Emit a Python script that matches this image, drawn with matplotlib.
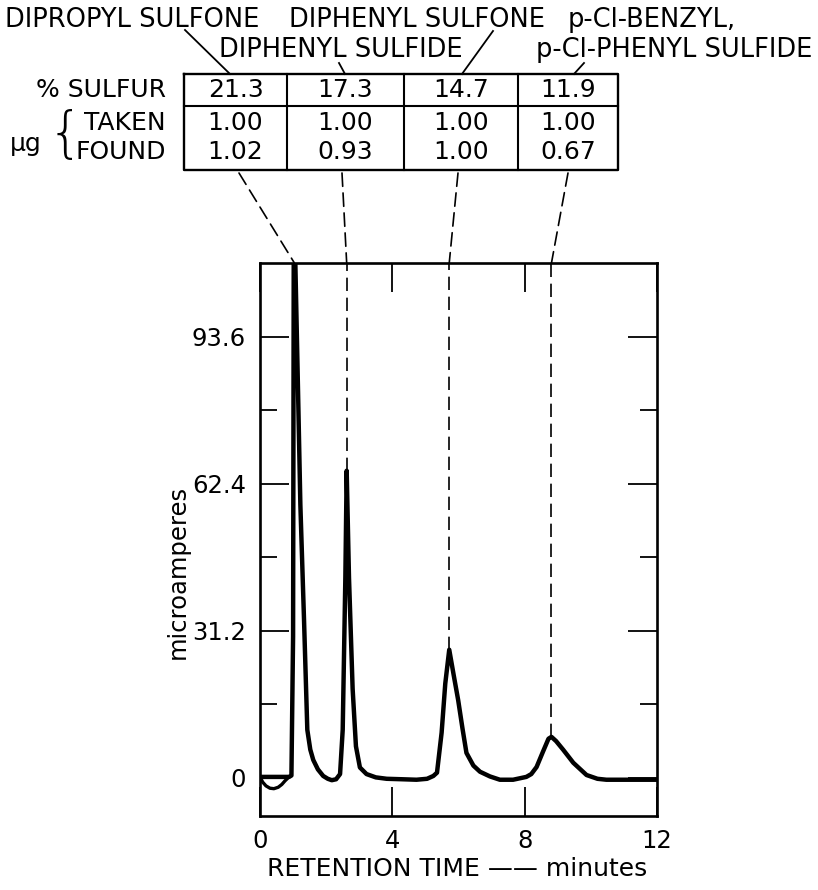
import numpy as np
import matplotlib
matplotlib.use('Agg')
import matplotlib.pyplot as plt
from matplotlib.patches import ConnectionPatch

# chromatogram trace (minutes, microamperes)
time = [0.0, 0.88, 0.95, 1.00, 1.02, 1.06, 1.15, 1.22, 1.33, 1.43, 1.52, 1.61,
        1.75, 1.91, 2.05, 2.17, 2.30, 2.42, 2.50, 2.58, 2.62, 2.69, 2.80, 2.90,
        3.02, 3.22, 3.50, 3.83, 4.30, 4.73, 5.05, 5.24, 5.35, 5.49, 5.60, 5.72,
        5.85, 5.99, 6.12, 6.24, 6.45, 6.65, 6.95, 7.25, 7.65, 8.05, 8.20, 8.36,
        8.55, 8.72, 8.81, 8.95, 9.16, 9.47, 9.87, 10.20, 10.47, 11.0, 12.0]
current = [0.2, 0.2, 0.5, 30.0, 112.0, 112.0, 82.0, 58.0, 33.7, 10.2, 6.0, 3.8,
           1.8, 0.4, -0.2, -0.5, -0.3, 0.8, 10.2, 42.5, 65.2, 42.5, 18.9, 6.7,
           2.2, 0.8, 0.1, -0.2, -0.3, -0.4, -0.2, 0.4, 1.1, 9.6, 20.0, 27.2,
           22.0, 16.5, 10.5, 5.3, 2.6, 1.3, 0.3, -0.4, -0.4, 0.2, 0.8, 2.3,
           5.5, 8.3, 8.7, 7.8, 6.0, 3.2, 0.6, -0.2, -0.4, -0.4, -0.4]
# small negative dip at the start
dip_time = [0.0, 0.08, 0.18, 0.30, 0.42, 0.55, 0.66, 0.76, 0.88]
dip_current = [0.2, -0.9, -1.7, -2.2, -2.3, -2.0, -1.4, -0.6, 0.2]

peak_times = [1.04, 2.62, 5.72, 8.81]
sulfur_pct = ['21.3', '17.3', '14.7', '11.9']
taken = ['1.00', '1.00', '1.00', '1.00']
found = ['1.02', '0.93', '1.00', '0.67']

yticks = [0, 31.2, 62.4, 93.6]
yminor = [15.6, 46.8, 78.0]
xticks = [0, 4, 8, 12]

plt.rcParams['font.family'] = ['DejaVu Sans']

fig = plt.figure(figsize=(8.18, 8.9), dpi=100)

# overlay in pixel coordinates for the header / table
ov = fig.add_axes([0, 0, 1, 1], zorder=0)
ov.set_xlim(0, 818)
ov.set_ylim(890, 0)
ov.axis('off')

ax = fig.add_axes([260 / 818, 1 - 816 / 890, 397 / 818, 553 / 890], zorder=1)
ax.set_facecolor('none')
ax.set_xlim(0, 12)
ax.set_ylim(-8.1, 109.3)

ax.plot(time, current, color='black', lw=3.2, solid_joinstyle='round',
        solid_capstyle='round')
ax.plot(dip_time, dip_current, color='black', lw=2.4)

dash = (0, (8, 4))
for t in peak_times[1:]:
    h = np.interp(t, time, current)
    ax.vlines(t, h, 109.3, colors='black', lw=1.2, linestyles=dash)

ax.set_xticks(xticks)
ax.set_yticks(yticks)
ax.set_yticks(yminor, minor=True)
ax.set_yticklabels(['0', '31.2', '62.4', '93.6'])
ax.tick_params(axis='y', which='major', direction='in', length=21, width=1.3,
               right=True, labelsize=17.5, pad=10)
ax.tick_params(axis='y', which='minor', direction='in', length=12, width=1.3,
               right=True)
ax.tick_params(axis='x', which='major', direction='in', length=21, width=1.3,
               top=True, labelsize=17.5, pad=9)
for s in ax.spines.values():
    s.set_linewidth(1.9)

fig.text(457 / 818, 1 - 869 / 890, 'RETENTION TIME \u2014\u2014 minutes',
         ha='center', va='center', fontsize=18)
fig.text(178 / 818, 1 - 572 / 890, 'microamperes', rotation=90,
         ha='center', va='center', fontsize=17.5)

# header labels
hdr = dict(fontsize=18.5, va='center')
ov.text(5, 20, 'DIPROPYL SULFONE', ha='left', **hdr)
ov.text(289, 20, 'DIPHENYL SULFONE', ha='left', **hdr)
ov.text(568, 20, 'p-Cl-BENZYL,', ha='left', **hdr)
ov.text(219, 50, 'DIPHENYL SULFIDE', ha='left', **hdr)
ov.text(812, 50, 'p-Cl-PHENYL SULFIDE', ha='right', **hdr)

for (x0, y0), (x1, y1) in [((185, 30), (230, 74)), ((339, 63), (345, 74)),
                           ((493, 31), (462, 74)), ((584, 63), (574, 74))]:
    ov.plot([x0, x1], [y0, y1], color='black', lw=1.3)

# table
cols = [184, 287, 404, 518, 618]
top, mid, bot = 74, 106, 170
ov.plot([cols[0], cols[-1], cols[-1], cols[0], cols[0]],
        [top, top, bot, bot, top], color='black', lw=1.7)
ov.plot([cols[0], cols[-1]], [mid, mid], color='black', lw=1.5)
for c in cols[1:-1]:
    ov.plot([c, c], [top, bot], color='black', lw=1.5)

cell = dict(fontsize=18, ha='center', va='center')
for i in range(4):
    cx = (cols[i] + cols[i + 1]) / 2
    ov.text(cx, 90, sulfur_pct[i], **cell)
    ov.text(cx, 123, taken[i], **cell)
    ov.text(cx, 152, found[i], **cell)

ov.text(166, 90, '% SULFUR', ha='right', va='center', fontsize=18)
ov.text(166, 123, 'TAKEN', ha='right', va='center', fontsize=18)
ov.text(166, 152, 'FOUND', ha='right', va='center', fontsize=18)
ov.text(65, 136, '{', ha='center', va='center', fontsize=40,
        fontweight='light')
ov.text(26, 144, '\u03bcg', ha='center', va='center', fontsize=18)

# dashed leaders from the table to the peaks
starts = [239, 342, 458, 568]
for sx, t in zip(starts, peak_times):
    con = ConnectionPatch(xyA=(sx, 173), coordsA=ov.transData,
                          xyB=(t, 109.3), coordsB=ax.transData,
                          color='black', lw=1.2, linestyle=dash)
    fig.add_artist(con)

fig.savefig('out.png', dpi=100, facecolor='white')
